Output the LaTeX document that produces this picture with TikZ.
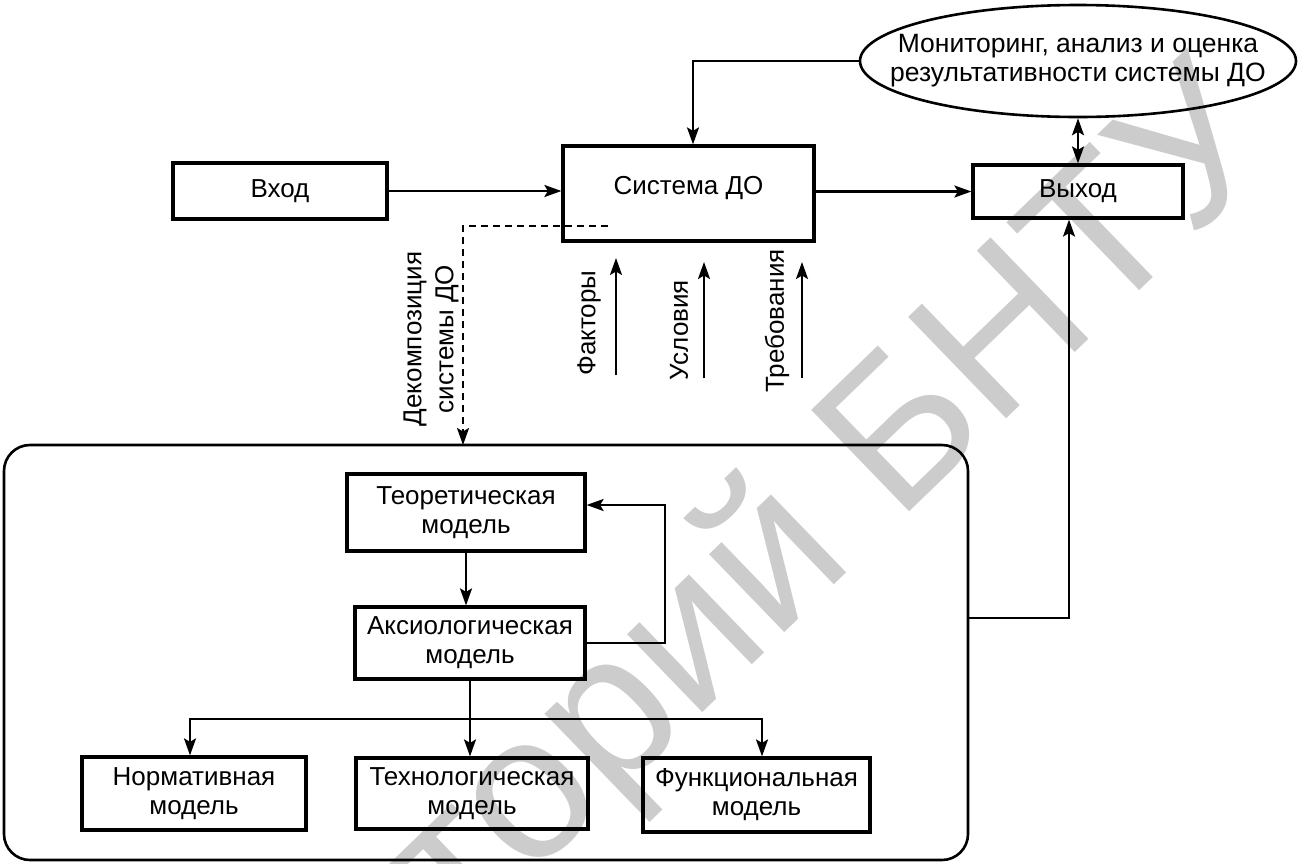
\documentclass[tikz,border=0pt]{standalone}
\usepackage{fontspec}
\setmainfont{Liberation Sans}
\usetikzlibrary{arrows.meta,shapes.geometric,calc}
\begin{document}
\begin{tikzpicture}[x=1pt,y=-1pt,
  font=\fontsize{26}{29}\selectfont,
  box/.style={draw, line width=3.2pt, rectangle, align=center, inner sep=0pt},
  conn/.style={line width=2.2pt},
  tip/.tip={Stealth[length=17pt,width=12pt,inset=3.5pt]},
  arr/.style={conn, -tip},
  dbl/.style={conn, tip-tip},
  wm/.style={text=black!20, font=\fontsize{205}{205}\selectfont, inner sep=0pt}]
\useasboundingbox (0,0) rectangle (1298,863);
\fill[white] (0,0) rectangle (1298,863);
% watermark
\node[wm, rotate=44, anchor=base east] (wmk) at (1285,150) {Репозиторий БНТУ};
% nodes
\node[draw, ellipse, line width=2.6pt, minimum width=436pt, minimum height=112pt,
      inner xsep=-70pt, inner ysep=0pt, align=center] (ell) at (1078,61)
      {\fontsize{26.5}{29}\selectfont Мониторинг, анализ и оценка\\\fontsize{26.5}{29}\selectfont результативности системы ДО};
\node[box, minimum width=251pt, minimum height=95pt, text height=19pt, text depth=18pt] (sys) at (688.5,193.5) {Система ДО};
\node[box, minimum width=214pt, minimum height=56pt] (vhod) at (280,191) {Вход};
\node[box, minimum width=210pt, minimum height=53pt] (vyhod) at (1078,191.5) {Выход};
\node[draw, line width=2.6pt, rounded corners=26pt, minimum width=964pt, minimum height=415pt, inner sep=0pt] (big) at (486,652.5) {};
\node[box, minimum width=238pt, minimum height=77pt] (teor) at (466,512.5) {Теоретическая\\модель};
\node[box, minimum width=230pt, minimum height=72pt] (aks) at (470,643) {Аксиологическая\\модель};
\node[box, minimum width=224pt, minimum height=73pt] (norm) at (194,793.5) {Нормативная\\модель};
\node[box, minimum width=232pt, minimum height=71pt] (tech) at (472,793.5) {Технологическая\\модель};
\node[box, minimum width=227pt, minimum height=74pt] (func) at (756.5,795) {Функциональная\\модель};
% rotated labels
\node[rotate=90, align=center, inner sep=0pt] (dec) at (431,339) {Декомпозиция\\[3pt]системы ДО};
\node[rotate=90, inner sep=0pt] (fak) at (589,323) {Факторы};
\node[rotate=90, inner sep=0pt] (usl) at (679,330) {Условия};
\node[rotate=90, inner sep=0pt] (treb) at (777,321) {Требования};
% coordinates
\coordinate (f1) at (616,375); \coordinate (f2) at (616,258);
\coordinate (u1) at (704,378); \coordinate (u2) at (704,262);
\coordinate (t1) at (802,378); \coordinate (t2) at (802,262);
\coordinate (ds) at (608,226); \coordinate (de) at (463,445);
\coordinate (bus) at (472,719);
% connectors
\draw[arr] (vhod.east) -- (sys.west |- vhod.east);
\draw[arr] (sys.east |- vyhod.west) -- (vyhod.west);
\draw[arr] (ell.west) -| ([xshift=4.5pt]sys.north);
\draw[dbl] (ell.south) -- (vyhod.north);
\draw[arr] ([yshift=34.5pt]big.east) -| ([xshift=-9pt]vyhod.south);
\draw[arr, dash pattern=on 7pt off 5pt] (ds) -| (de);
\draw[arr] (f1) -- (f2);
\draw[arr] (u1) -- (u2);
\draw[arr] (t1) -- (t2);
\draw[arr] (teor.south) -- (teor.south |- aks.north);
\draw[arr] (aks.east) -- ++(78,0) |- ([yshift=7.5pt]teor.east);
\draw[arr] (aks.south) -- (aks.south |- tech.north);
\draw[arr] (bus) -| ([xshift=-4pt]norm.north);
\draw[arr] (bus) -| ([xshift=5.5pt]func.north);
\end{tikzpicture}
\end{document}
